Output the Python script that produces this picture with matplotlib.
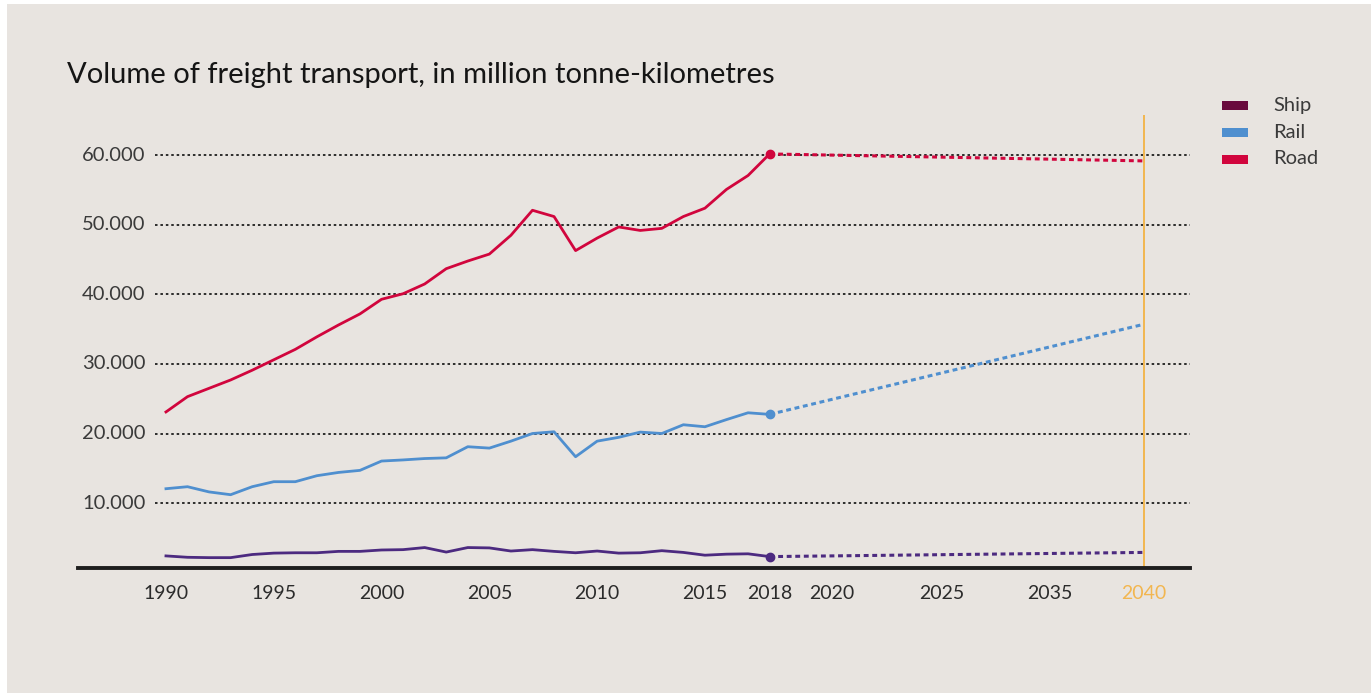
import matplotlib
matplotlib.use("Agg")
import matplotlib.pyplot as plt
from matplotlib.patches import Rectangle

plt.rcParams["font.family"] = ["Lato", "DejaVu Sans"]

# historical series, in thousand million tonne-km
years = list(range(1990, 2019))
road = [23.1, 25.3, 26.5, 27.7, 29.1, 30.6, 32.1, 33.9, 35.6, 37.2,
        39.3, 40.1, 41.5, 43.7, 44.8, 45.8, 48.5, 52.1, 51.2, 46.3,
        48.1, 49.7, 49.2, 49.5, 51.2, 52.4, 55.1, 57.1, 60.2]
rail = [12.06, 12.35, 11.6, 11.2, 12.35, 13.07, 13.07, 13.93, 14.4, 14.7,
        16.04, 16.2, 16.4, 16.5, 18.1, 17.9, 18.9, 20.0, 20.25, 16.66,
        18.9, 19.45, 20.2, 20.0, 21.26, 20.97, 22.0, 22.98, 22.75]
ship = [2.4, 2.2, 2.15, 2.15, 2.6, 2.8, 2.85, 2.85, 3.05, 3.05,
        3.25, 3.3, 3.6, 2.95, 3.6, 3.55, 3.1, 3.3, 3.05, 2.85,
        3.1, 2.8, 2.85, 3.15, 2.9, 2.5, 2.65, 2.7, 2.3]

# forecast endpoints 2018 -> 2040
proj_years = [2018, 2040]
road_proj = [60.2, 59.2]
rail_proj = [22.75, 35.7]
ship_proj = [2.3, 2.9]

series = ["Ship", "Rail", "Road"]
legend_colors = ["#690a3d", "#4f8fcf", "#d1053d"]
line_colors = {"Ship": "#4c2a80", "Rail": "#4f8fcf", "Road": "#d1053d"}

y_ticks = [10, 20, 30, 40, 50, 60]
y_labels = ["10.000", "20.000", "30.000", "40.000", "50.000", "60.000"]
x_labels = ["1990", "1995", "2000", "2005", "2010", "2015", "2018",
            "2020", "2025", "2035", "2040"]

# the forecast part of the axis is squeezed, labels sit at these spots
x_label_pos = [1990, 1995, 2000, 2005, 2010, 2015, 2018,
               2020.9, 2026.0, 2031.0, 2035.35]
END_POS = 2035.35


def forecast_x(yrs):
    # 2018 stays put, 2040 lands on the orange marker line
    return [2018 + (y - 2018) * (END_POS - 2018) / (2040 - 2018) for y in yrs]


BG = "#e8e4e0"
INK = "#2b2b2b"
ORANGE = "#f2b650"
Y0 = 0.66

fig = plt.figure(figsize=(13.71, 6.93), dpi=100)
fig.patch.set_facecolor("white")
fig.add_artist(Rectangle((7 / 1371, 0), 1 - 7 / 1371, 1 - 4 / 693,
                         transform=fig.transFigure, facecolor=BG,
                         edgecolor="none", zorder=-10))

ax = fig.add_axes([78 / 1371, (693 - 568) / 693, (1190 - 78) / 1371, (568 - 115) / 693])
ax.set_facecolor("none")
ax.set_xlim(1985.92, 2037.5)
ax.set_ylim(Y0, 65.8)
for s in ax.spines.values():
    s.set_visible(False)

for v, lab in zip(y_ticks, y_labels):
    ax.hlines(v, 1989.5, 2037.5, colors="#1e1e1e", linestyles=(0, (1.4, 1.6)),
              linewidth=1.3, zorder=1)
    ax.text(1989.05, v, lab, ha="right", va="center", fontsize=14.5, color="#3a3a3a")

ax.axhline(Y0, color="#1e1e1e", linewidth=2.8, zorder=3, clip_on=False)
ax.axvline(END_POS, color=ORANGE, linewidth=1.4, zorder=2)

data = {"Ship": (ship, ship_proj), "Rail": (rail, rail_proj), "Road": (road, road_proj)}
for name in series:
    hist, proj = data[name]
    c = line_colors[name]
    ax.plot(years, hist, color=c, linewidth=2, zorder=4)
    ax.plot(forecast_x(proj_years), proj, color=c, linewidth=2.2,
            linestyle=(0, (1.6, 1.2)), zorder=4)
    ax.plot([years[-1]], [hist[-1]], "o", color=c, markersize=6, zorder=5)

ax.set_xticks(x_label_pos)
ax.set_xticklabels(x_labels, fontsize=14, color=INK)
ax.get_xticklabels()[-1].set_color(ORANGE)
ax.tick_params(axis="x", length=0, pad=12)
ax.set_yticks([])

fig.text(67 / 1371, 1 - 75 / 693, "Volume of freight transport, in million tonne-kilometres",
         fontsize=21, color="#151515", ha="left", va="center")

# legend drawn by hand: wide flat swatches
for i, (name, c) in enumerate(zip(series, legend_colors)):
    yc = 105 + i * 27
    fig.add_artist(Rectangle((1222 / 1371, 1 - (yc + 4.5) / 693), 26 / 1371, 9 / 693,
                             transform=fig.transFigure, facecolor=c, edgecolor="none"))
    fig.text(1273 / 1371, 1 - yc / 693, name, fontsize=14.5, color="#3a3a3a",
             ha="left", va="center")

fig.savefig("out.png", dpi=100, facecolor=fig.get_facecolor())
